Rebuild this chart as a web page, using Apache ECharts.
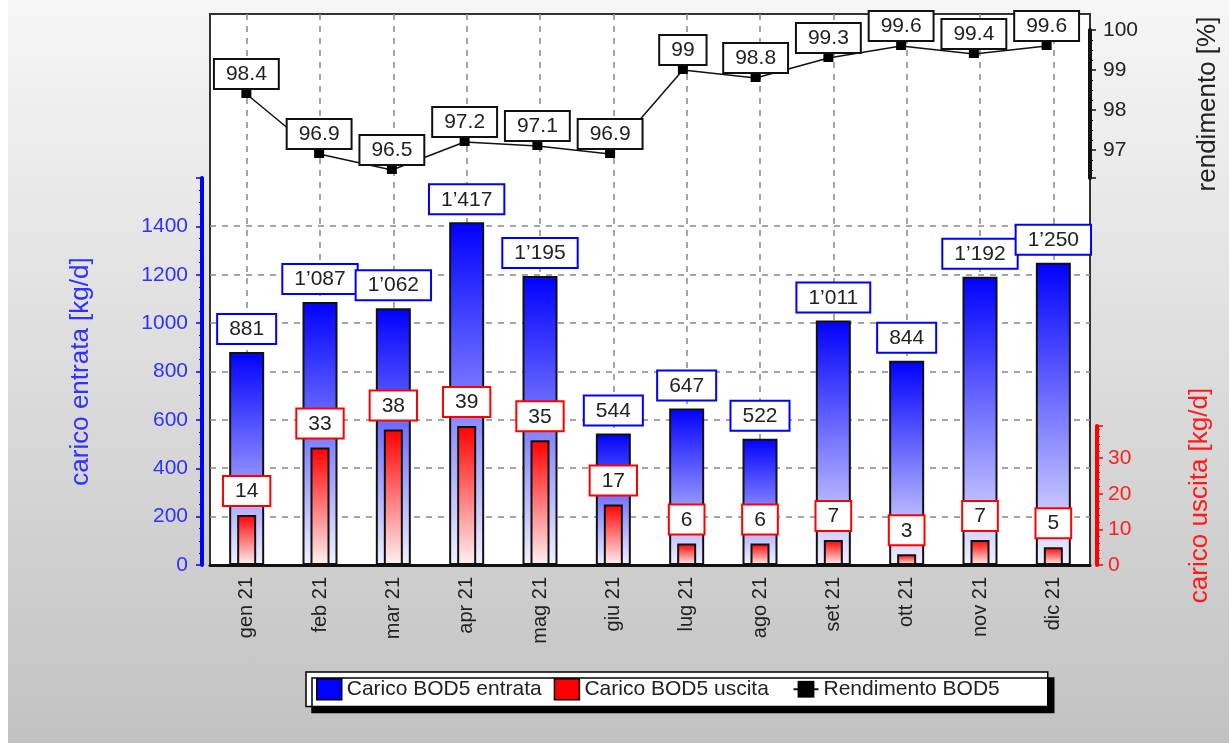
<!DOCTYPE html>
<html>
<head>
<meta charset="utf-8">
<script src="https://fastly.jsdelivr.net/npm/echarts@6.0.0/dist/echarts.min.js"></script>
<style>
  html, body { margin: 0; padding: 0; background: #fff; }
  #chart {
    position: absolute; left: 0; top: 0;
    width: 1229px; height: 743px;
    background: linear-gradient(to right, #fff 8px, transparent 8px), linear-gradient(#f6f6f6, #c2c2c2);
  }
</style>
</head>
<body>
<div id="chart"></div>
<script>
// months
const months = ['gen 21', 'feb 21', 'mar 21', 'apr 21', 'mag 21', 'giu 21', 'lug 21', 'ago 21', 'set 21', 'ott 21', 'nov 21', 'dic 21'];
// kg/d
const caricoEntrata = [881, 1087, 1062, 1417, 1195, 544, 647, 522, 1011, 844, 1192, 1250];
const caricoUscita = [14, 33, 38, 39, 35, 17, 6, 6, 7, 3, 7, 5];
// %
const rendimento = [98.4, 96.9, 96.5, 97.2, 97.1, 96.9, 99, 98.8, 99.3, 99.6, 99.4, 99.6];

const seriesNames = ['Carico BOD5 entrata', 'Carico BOD5 uscita', 'Rendimento BOD5'];

const font = 'Liberation Sans, Arial, sans-serif';

function thousands(v) {
  return String(v).replace(/\B(?=(\d{3})+(?!\d))/g, '\u2019');
}

const chart = echarts.init(document.getElementById('chart'), null, { renderer: 'canvas' });

const boxLabel = (border) => ({
  show: true,
  position: 'top',
  color: '#222',
  fontFamily: font,
  fontSize: 21,
  backgroundColor: '#fff',
  borderColor: border,
  borderWidth: 2,
  padding: [4, 11, 3, 11]
});

const hiddenCat = (gridIndex) => ({
  type: 'category', gridIndex: gridIndex, data: months, show: false
});

const dashed = { color: '#888', width: 1.5, type: [6, 6] };

const option = {
  animation: false,
  textStyle: { fontFamily: font },
  legend: {
    left: 306,
    top: 672,
    itemWidth: 25,
    itemHeight: 21,
    itemGap: 12,
    padding: [6, 48, 6, 10],
    backgroundColor: '#fff',
    borderColor: '#000',
    borderWidth: 1.5,
    shadowColor: '#000',
    shadowBlur: 0,
    shadowOffsetX: 6,
    shadowOffsetY: 6,
    textStyle: { color: '#222', fontSize: 21, fontFamily: font },
    formatter: (name) => (name === seriesNames[1] ? name + '\u00a0\u00a0' : name),
    data: [
      { name: seriesNames[0], icon: 'rect', itemStyle: { color: '#0000ff', borderColor: '#000', borderWidth: 1.5 } },
      { name: seriesNames[1], icon: 'rect', itemStyle: { color: '#ff0000', borderColor: '#000', borderWidth: 1.5 } },
      { name: seriesNames[2] }
    ]
  },
  grid: [
    { left: 210, right: 139, top: 14, bottom: 178, show: true, backgroundColor: '#fff', borderColor: '#333', borderWidth: 2 },
    { left: 210, right: 139, top: 178, bottom: 178 },
    { left: 210, right: 139, top: 426, bottom: 178 },
    { left: 210, right: 139, top: 30, bottom: 565 },
    { left: 210, right: 139, top: 226, bottom: 178 }
  ],
  xAxis: [
    {
      type: 'category',
      gridIndex: 0,
      data: months,
      axisLine: { lineStyle: { color: '#111', width: 3 } },
      axisTick: { alignWithLabel: true, length: 8, lineStyle: { color: '#333', width: 1.5 } },
      axisLabel: { rotate: 90, margin: 12, color: '#222', fontSize: 20, fontFamily: font },
      splitLine: { show: true, alignWithLabel: true, lineStyle: dashed }
    },
    hiddenCat(1),
    hiddenCat(2),
    hiddenCat(3),
    hiddenCat(4)
  ],
  yAxis: [
    { type: 'value', gridIndex: 0, show: false, splitLine: { show: false } },
    {
      type: 'value',
      gridIndex: 1,
      position: 'left',
      offset: 8,
      min: 0,
      max: 1600,
      interval: 200,
      name: 'carico entrata [kg/d]',
      nameLocation: 'middle',
      nameRotate: 90,
      nameGap: 108,
      nameTextStyle: { color: '#3030ff', fontSize: 26, fontFamily: font },
      axisLine: { show: true, lineStyle: { color: '#0000ff', width: 4 } },
      axisTick: { show: true, length: 6, lineStyle: { color: '#0000ff', width: 1.5 } },
      minorTick: { show: true, splitNumber: 4, length: 3, lineStyle: { color: '#0000ff' } },
      axisLabel: {
        color: '#3030ff', fontSize: 21, fontFamily: font, margin: 14,
        formatter: (v) => (v === 1600 ? '' : v)
      },
      splitLine: { show: false }
    },
    {
      type: 'value',
      gridIndex: 2,
      position: 'right',
      offset: 7,
      min: 0,
      max: 39,
      interval: 10,
      name: 'carico uscita [kg/d]',
      nameLocation: 'middle',
      nameRotate: 90,
      nameGap: 90,
      nameTextStyle: { color: '#ff1a1a', fontSize: 26, fontFamily: font },
      axisLine: { show: true, lineStyle: { color: '#ff0000', width: 4 } },
      axisTick: { show: true, length: 6, lineStyle: { color: '#ff0000', width: 1.5 } },
      minorTick: { show: true, splitNumber: 5, length: 3, lineStyle: { color: '#ff0000' } },
      axisLabel: {
        color: '#ff2020', fontSize: 21, fontFamily: font, margin: 11,
        formatter: (v) => (v % 10 === 0 ? v : '')
      },
      splitLine: { show: false }
    },
    {
      type: 'value',
      gridIndex: 3,
      position: 'right',
      offset: 7,
      min: 96.3,
      max: 100,
      splitNumber: 4,
      name: 'rendimento [%]',
      nameLocation: 'middle',
      nameRotate: 90,
      nameGap: 105,
      nameTextStyle: { color: '#222', fontSize: 26, fontFamily: font },
      axisLine: { show: true, lineStyle: { color: '#111', width: 4 } },
      axisTick: { show: true, length: 6, lineStyle: { color: '#111', width: 1.5 } },
      minorTick: { show: true, splitNumber: 4, length: 3, lineStyle: { color: '#111' } },
      axisLabel: {
        color: '#222', fontSize: 21, fontFamily: font, margin: 13,
        formatter: (v) => (Math.abs(v - Math.round(v)) < 1e-6 ? Math.round(v) : '')
      },
      splitLine: { show: false }
    },
    {
      // horizontal grid lines 0..1400 only
      type: 'value',
      gridIndex: 4,
      min: 0,
      max: 1400,
      interval: 200,
      axisLine: { show: false },
      axisTick: { show: false },
      axisLabel: { show: false },
      splitLine: { show: true, lineStyle: dashed }
    }
  ],
  series: [
    {
      name: seriesNames[0],
      type: 'bar',
      xAxisIndex: 1,
      yAxisIndex: 1,
      barWidth: 35,
      data: caricoEntrata,
      itemStyle: {
        color: new echarts.graphic.LinearGradient(0, 0, 0, 1, [
          { offset: 0, color: '#0000ff' },
          { offset: 1, color: '#f2f2ff' }
        ]),
        borderColor: '#111',
        borderWidth: 2
      },
      label: Object.assign(boxLabel('#0000ff'), { distance: 9, formatter: (p) => thousands(p.value) })
    },
    {
      name: seriesNames[1],
      type: 'bar',
      xAxisIndex: 2,
      yAxisIndex: 2,
      barWidth: 19,
      data: caricoUscita,
      itemStyle: {
        color: new echarts.graphic.LinearGradient(0, 0, 0, 1, [
          { offset: 0, color: '#ff0000' },
          { offset: 1, color: '#fff2f2' }
        ]),
        borderColor: '#111',
        borderWidth: 2
      },
      label: Object.assign(boxLabel('#ff0000'), { distance: 10 })
    },
    {
      name: seriesNames[2],
      type: 'line',
      xAxisIndex: 3,
      yAxisIndex: 3,
      data: rendimento,
      symbol: 'rect',
      symbolSize: [10, 8],
      itemStyle: { color: '#000' },
      lineStyle: { color: '#111', width: 1.5 },
      label: Object.assign(boxLabel('#111'), { distance: 2 })
    }
  ]
};

chart.setOption(option);
window.addEventListener('resize', chart.resize);
</script>
</body>
</html>
